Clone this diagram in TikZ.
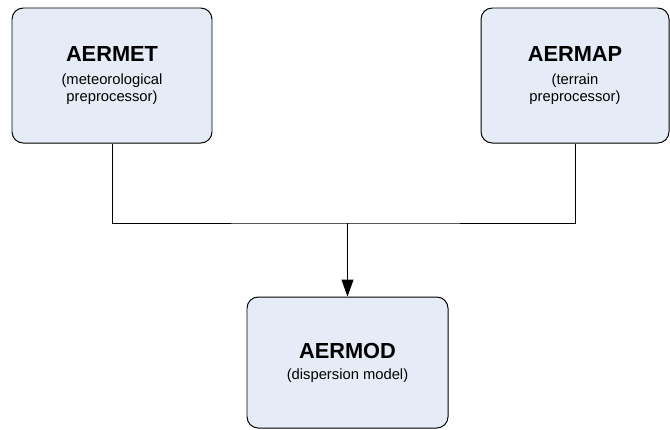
\documentclass[tikz,border=0pt]{standalone}
\usepackage{fontspec}
\setmainfont{Liberation Sans}
\usetikzlibrary{arrows.meta,positioning}
\definecolor{boxfill}{RGB}{230,236,247}
\newcommand{\modname}[1]{{\fontsize{15.5}{15.5}\selectfont\bfseries #1}}

\begin{document}
\begin{tikzpicture}
		\tikzstyle{model_box} = [rectangle, draw, rounded corners=8pt, fill=boxfill, line width=0.7pt, align=center, font=\fontsize{10.5}{12}\selectfont, inner sep=0pt]
		\tikzstyle{conn} = [line width=0.65pt]

		\useasboundingbox (0,0) rectangle (16.75,-10.725);

		% Preprocessors
		\node (AERMET) [model_box, minimum width=5cm, minimum height=3.375cm] at (2.8,-1.8875) {\modname{AERMET}\\[4pt](meteorological\\preprocessor)};
		\node (AERMAP) [model_box, minimum width=4.7cm, minimum height=3.375cm] at (14.375,-1.8875) {\modname{AERMAP}\\[4pt](terrain\\preprocessor)};
		% Dispersion model
		\node (AERMOD) [model_box, minimum width=5.025cm, minimum height=3.275cm] at (8.6875,-9.0625) {\modname{AERMOD}\\[3pt](dispersion model)};

		% Connectors
		\coordinate (join) at (8.6875,-5.575);
		\draw[conn] (AERMET.south) |- (join) -| (AERMAP.south);
		\draw[conn,-{Triangle[width=8.5pt,length=12pt]}] (join) -- (AERMOD.north);
	\end{tikzpicture}
\end{document}
